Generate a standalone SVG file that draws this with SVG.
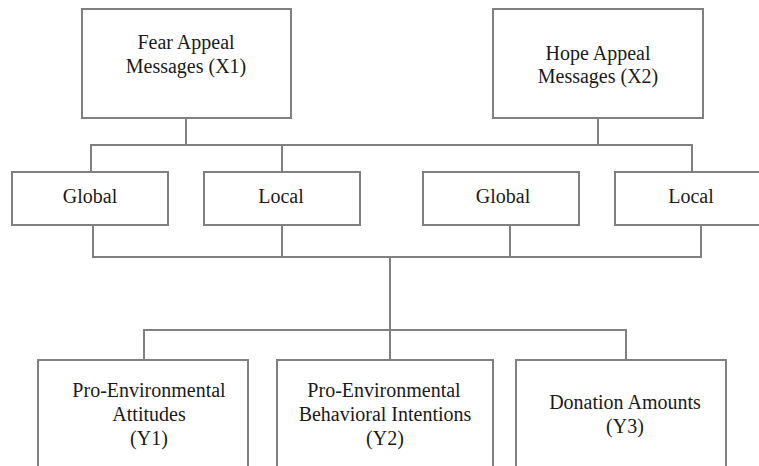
<svg xmlns="http://www.w3.org/2000/svg" width="759" height="466" viewBox="0 0 759 466">
<style>
.box{fill:#fff;stroke:#808080;stroke-width:2}
.ln{fill:none;stroke:#808080;stroke-width:2}
.t{font-size:20px;fill:#1a1a1a;text-anchor:middle}
</style>
<rect width="759" height="466" fill="#fff"/>
<g id="connectors" class="ln">
<path d="M186 118V145M598 118V145M91 172V145H692V172M282 145V172"/>
<path d="M93 225V257H701V225M282 225V257M510 225V257"/>
<path d="M390 257V360M144 360V330H626V360"/>
</g>
<g class="t" font-family="'Liberation Serif', 'DejaVu Serif', serif">
<g id="fear"><rect class="box" x="82" y="9" width="209" height="109"/><text x="186" y="49">Fear Appeal</text><text x="186" y="73">Messages (X1)</text></g>
<g id="hope"><rect class="box" x="493" y="9" width="210" height="109"/><text x="598" y="60">Hope Appeal</text><text x="598" y="83">Messages (X2)</text></g>
<g id="global1"><rect class="box" x="12" y="172" width="156" height="53"/><text x="90" y="203">Global</text></g>
<g id="local1"><rect class="box" x="204" y="172" width="156" height="53"/><text x="281" y="203">Local</text></g>
<g id="global2"><rect class="box" x="423" y="172" width="156" height="53"/><text x="503" y="203">Global</text></g>
<g id="local2"><rect class="box" x="615" y="172" width="160" height="53"/><text x="691" y="203">Local</text></g>
<g id="y1"><rect class="box" x="38" y="360" width="210" height="120"/><text x="149" y="397">Pro-Environmental</text><text x="149" y="421">Attitudes</text><text x="149" y="445">(Y1)</text></g>
<g id="y2"><rect class="box" x="277" y="360" width="216" height="120"/><text x="384" y="397">Pro-Environmental</text><text x="385" y="421">Behavioral Intentions</text><text x="385" y="445">(Y2)</text></g>
<g id="y3"><rect class="box" x="516" y="360" width="210" height="120"/><text x="625" y="409">Donation Amounts</text><text x="625" y="433">(Y3)</text></g>
</g>
</svg>
